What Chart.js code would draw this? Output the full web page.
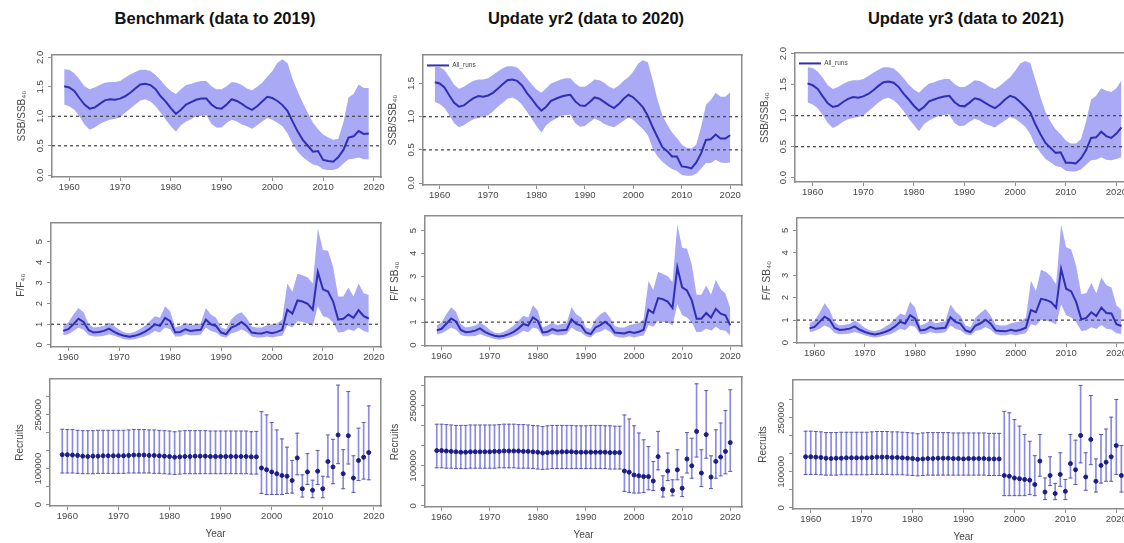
<!DOCTYPE html>
<html>
<head>
<meta charset="utf-8">
<script src="https://cdn.jsdelivr.net/npm/chart.js@4/dist/chart.umd.min.js"></script>
<style>
  body { margin: 0; width: 1124px; height: 543px; overflow: hidden; background: #fff; position: relative; }
  .ttl { position: absolute; top: 9px; width: 340px; text-align: center; font: bold 16.5px "Liberation Sans", Arial, sans-serif; color: #111; }
  canvas { position: absolute; }
</style>
</head>
<body>
<div class="ttl" style="left:45px">Benchmark (data to 2019)</div>
<div class="ttl" style="left:416px">Update yr2 (data to 2020)</div>
<div class="ttl" style="left:796px">Update yr3 (data to 2021)</div>
<script>
// years and ticks
const years = [1959,1960,1961,1962,1963,1964,1965,1966,1967,1968,1969,1970,1971,1972,1973,1974,1975,1976,1977,1978,
  1979,1980,1981,1982,1983,1984,1985,1986,1987,1988,1989,1990,1991,1992,1993,1994,1995,1996,1997,1998,
  1999,2000,2001,2002,2003,2004,2005,2006,2007,2008,2009,2010,2011,2012,2013,2014,2015,2016,2017,2018,
  2019,2020,2021];
const xTicks = [1960, 1970, 1980, 1990, 2000, 2010, 2020];
const ssbTicks = [0, 0.5, 1, 1.5, 2];
const fTicks = [0, 1, 2, 3, 4, 5];
const recTicks = [0, 50000, 100000, 150000, 200000, 250000, 300000];
const recTickLabels = [0, 100000, 250000];
const ssbRefs = [1.0, 0.5];
const fRefs = [1.0];

// ---- Benchmark (to 2019) ----
const ssbMid1 = [1.51,1.49,1.43,1.31,1.20,1.13,1.15,1.21,1.27,1.29, 1.28,1.30,1.34,1.40,1.47,1.54,1.55,1.53,1.46,1.34,
  1.25,1.14,1.04,1.11,1.20,1.24,1.28,1.30,1.30,1.20, 1.14,1.13,1.20,1.29,1.26,1.21,1.15,1.11,1.17,1.25,
  1.33,1.31,1.26,1.19,1.09,0.91,0.74,0.60,0.50,0.40, 0.41,0.26,0.24,0.23,0.31,0.43,0.64,0.66,0.75,0.70, 0.71];
const ssbHi1 = [1.80,1.79,1.73,1.63,1.51,1.46,1.49,1.53,1.57,1.58, 1.58,1.60,1.66,1.71,1.75,1.79,1.79,1.77,1.70,1.61,
  1.51,1.43,1.38,1.46,1.53,1.55,1.58,1.60,1.60,1.51, 1.46,1.46,1.51,1.58,1.57,1.53,1.47,1.44,1.50,1.57,
  1.67,1.77,1.91,1.97,1.90,1.63,1.42,1.23,1.05,0.89, 0.78,0.69,0.64,0.60,0.62,0.90,1.32,1.38,1.54,1.48, 1.48];
const ssbLo1 = [1.20,1.17,1.11,1.00,0.86,0.77,0.81,0.87,0.91,0.94, 0.96,0.98,1.06,1.13,1.20,1.27,1.29,1.25,1.17,1.06,
  0.94,0.83,0.74,0.85,0.91,0.95,1.00,1.01,1.02,0.87, 0.81,0.81,0.89,0.94,0.91,0.86,0.83,0.79,0.85,0.91,
  0.97,0.94,0.89,0.83,0.71,0.53,0.40,0.31,0.24,0.18, 0.16,0.10,0.09,0.09,0.12,0.20,0.27,0.28,0.30,0.27, 0.27];
const fMid1 = [0.68,0.76,1.00,1.27,1.11,0.71,0.60,0.63,0.68,0.79, 0.63,0.52,0.44,0.40,0.44,0.52,0.63,0.79,1.00,0.92,
  1.31,1.15,0.60,0.63,0.76,0.68,0.71,0.73,1.23,1.00, 0.92,0.60,0.52,0.84,0.95,1.11,0.92,0.60,0.57,0.55,
  0.63,0.57,0.63,0.73,1.71,1.52,2.15,2.10,1.99,1.71, 3.53,2.69,2.58,2.10,1.23,1.27,1.47,1.31,1.68,1.39, 1.28];
const fHi1 = [0.92,1.08,1.47,1.79,1.58,1.00,0.84,0.87,0.92,1.08, 0.92,0.73,0.60,0.57,0.63,0.76,0.92,1.15,1.39,1.31,
  1.87,1.63,0.84,0.92,1.08,0.95,1.00,1.04,1.79,1.47, 1.31,0.84,0.76,1.23,1.47,1.58,1.31,0.89,0.84,0.84,
  0.95,1.00,1.04,1.23,2.97,2.58,3.45,3.37,3.26,2.97, 5.63,4.59,4.56,3.77,2.34,2.34,2.78,2.34,2.97,2.50, 2.42];
const fLo1 = [0.47,0.52,0.68,0.84,0.73,0.47,0.41,0.41,0.44,0.52, 0.44,0.36,0.28,0.25,0.28,0.35,0.41,0.52,0.68,0.60,
  0.84,0.76,0.41,0.41,0.52,0.47,0.47,0.51,0.84,0.68, 0.60,0.41,0.36,0.57,0.63,0.76,0.63,0.41,0.36,0.36,
  0.41,0.36,0.41,0.44,0.95,0.84,1.15,1.11,1.04,0.92, 1.87,1.39,1.31,1.08,0.60,0.63,0.76,0.68,0.84,0.68, 0.60];
const recMid1 = [139000,139000,138000,137000,135000,134000,135000,135000,136000,136000,
  136000,136000,136000,137000,138000,138000,138000,137000,137000,136000,
  135000,134000,132000,133000,134000,134000,135000,135000,135000,134000,
  134000,134000,134000,134000,134000,134000,134000,133000,133000,
  102000,97000,91000,86000,81000,79000,67000,130000,44000,91000,40000,93000,44000,120000,105000,
  194000,86000,192000,74000,123000,132000,145000];
const recHi1 = [210000,209000,209000,207000,206000,206000,206000,207000,207000,207000,
  207000,207000,207000,208000,209000,209000,209000,208000,208000,207000,
  206000,205000,203000,205000,206000,206000,206000,206000,206000,205000,
  205000,205000,205000,205000,205000,205000,205000,203000,204000,
  259000,250000,229000,208000,183000,160000,123000,199000,83000,142000,68000,151000,79000,194000,182000,
  333000,153000,315000,136000,213000,229000,275000];
const recLo1 = [88000,88000,88000,87000,86000,86000,86000,87000,87000,87000,
  87000,87000,87000,88000,88000,88000,88000,88000,87000,87000,
  86000,85000,84000,85000,86000,86000,86000,86000,86000,86000,
  86000,86000,86000,86000,86000,86000,86000,85000,85000,
  31000,28000,28000,28000,28000,31000,32000,83000,21000,56000,19000,56000,19000,77000,58000,
  114000,44000,113000,34000,67000,71000,69000];

// ---- Update yr2 (to 2020) ----
const ssbMid2 = [1.52,1.50,1.44,1.32,1.21,1.15,1.17,1.23,1.28,1.31, 1.30,1.32,1.36,1.42,1.49,1.55,1.56,1.54,1.47,1.36,
  1.27,1.17,1.09,1.15,1.24,1.27,1.30,1.32,1.33,1.23, 1.17,1.16,1.22,1.29,1.27,1.22,1.17,1.13,1.19,1.27,
  1.33,1.29,1.22,1.14,1.01,0.84,0.69,0.54,0.48,0.40, 0.40,0.25,0.24,0.22,0.31,0.45,0.65,0.66,0.73,0.67, 0.67,0.72];
const ssbHi2 = [1.76,1.75,1.70,1.60,1.48,1.42,1.45,1.50,1.54,1.56, 1.56,1.58,1.63,1.68,1.73,1.76,1.76,1.74,1.67,1.58,
  1.49,1.41,1.36,1.43,1.50,1.53,1.56,1.58,1.58,1.50, 1.45,1.45,1.50,1.56,1.55,1.51,1.45,1.42,1.47,1.54,
  1.60,1.68,1.80,1.85,1.82,1.55,1.25,1.02,0.88,0.76, 0.68,0.58,0.53,0.52,0.58,0.85,1.18,1.25,1.36,1.30, 1.30,1.37];
const ssbLo2 = [1.22,1.19,1.13,1.02,0.90,0.84,0.87,0.92,0.96,0.98, 1.00,1.02,1.08,1.15,1.21,1.27,1.29,1.25,1.18,1.08,
  0.97,0.86,0.76,0.87,0.93,0.97,1.01,1.02,1.03,0.90, 0.85,0.86,0.92,0.97,0.94,0.89,0.86,0.84,0.89,0.94,
  0.99,0.95,0.88,0.81,0.72,0.52,0.40,0.32,0.26,0.21, 0.18,0.12,0.11,0.11,0.14,0.22,0.30,0.30,0.35,0.31, 0.30,0.31];
const fMid2 = [0.64,0.71,0.93,1.16,1.03,0.66,0.56,0.58,0.63,0.73, 0.58,0.48,0.41,0.37,0.41,0.48,0.58,0.73,0.92,0.85,
  1.21,1.06,0.55,0.58,0.70,0.63,0.65,0.67,1.13,0.92, 0.85,0.55,0.48,0.77,0.87,1.02,0.85,0.55,0.53,0.51,
  0.58,0.53,0.58,0.67,1.55,1.40,2.05,2.00,1.90,1.62, 3.39,2.52,2.38,1.95,1.15,1.15,1.40,1.20,1.58,1.37, 1.30,0.86];
const fHi2 = [0.86,0.99,1.35,1.65,1.45,0.92,0.77,0.80,0.85,0.99, 0.85,0.67,0.55,0.52,0.58,0.70,0.85,1.06,1.28,1.20,
  1.74,1.50,0.77,0.85,0.99,0.87,0.92,0.96,1.65,1.35, 1.20,0.77,0.70,1.13,1.35,1.46,1.20,0.82,0.77,0.77,
  0.87,0.92,0.96,1.13,2.80,2.40,3.20,3.10,3.00,2.75, 5.26,4.25,4.20,3.50,2.20,2.20,2.60,2.20,2.85,2.45, 2.25,1.60];
const fLo2 = [0.47,0.52,0.63,0.77,0.67,0.44,0.38,0.38,0.40,0.48, 0.40,0.33,0.26,0.23,0.26,0.32,0.38,0.48,0.63,0.56,
  0.77,0.70,0.38,0.38,0.48,0.43,0.43,0.47,0.77,0.63, 0.56,0.38,0.33,0.53,0.58,0.70,0.58,0.38,0.33,0.33,
  0.38,0.33,0.38,0.42,0.88,0.80,1.05,1.02,0.98,0.85, 1.78,1.30,1.20,1.00,0.56,0.58,0.72,0.62,0.80,0.66, 0.62,0.42];
const recMid2 = [138000,138000,137000,136000,135000,134000,134000,135000,135000,135000,
  135000,135000,136000,136000,137000,137000,137000,137000,136000,136000,
  135000,134000,132000,133000,134000,134000,135000,135000,135000,134000,
  134000,134000,134000,134000,134000,134000,133000,133000,133000,
  87000,84000,77000,75000,73000,73000,62000,123000,42000,87000,38000,90000,44000,117000,100000,
  186000,82000,178000,72000,111000,122000,136000,158000];
const recHi2 = [204000,204000,203000,202000,201000,201000,201000,202000,202000,202000,
  202000,202000,202000,203000,204000,204000,204000,203000,203000,202000,
  201000,200000,198000,200000,201000,201000,201000,201000,201000,200000,
  200000,200000,201000,201000,201000,200000,200000,199000,199000,
  227000,217000,200000,182000,165000,148000,111000,186000,75000,132000,65000,140000,72000,183000,169000,
  305000,140000,288000,125000,190000,207000,238000,290000];
const recLo2 = [95000,95000,94000,94000,93000,93000,93000,94000,94000,94000,
  94000,94000,94000,95000,95000,95000,95000,94000,94000,94000,
  93000,92000,91000,92000,93000,93000,93000,93000,93000,93000,
  93000,93000,93000,93000,93000,93000,92000,92000,92000,
  36000,33000,32000,32000,33000,40000,38000,90000,22000,63000,25000,65000,23000,82000,69000,
  122000,48000,119000,43000,69000,75000,80000,86000];

// ---- Update yr3 (to 2021) ----
const ssbMid3 = [1.52,1.49,1.43,1.31,1.20,1.14,1.16,1.22,1.27,1.30, 1.29,1.31,1.35,1.41,1.48,1.54,1.55,1.53,1.46,1.35,
  1.26,1.16,1.08,1.14,1.23,1.26,1.29,1.31,1.32,1.22, 1.16,1.15,1.21,1.28,1.26,1.21,1.16,1.12,1.18,1.26,
  1.32,1.29,1.22,1.14,1.05,0.86,0.70,0.56,0.48,0.40, 0.41,0.24,0.24,0.23,0.31,0.44,0.64,0.65,0.74,0.67, 0.64,0.71,0.81];
const ssbHi3 = [1.78,1.77,1.71,1.61,1.49,1.43,1.46,1.51,1.55,1.57, 1.57,1.59,1.64,1.69,1.74,1.78,1.78,1.76,1.69,1.60,
  1.50,1.42,1.37,1.45,1.52,1.54,1.57,1.59,1.59,1.51, 1.46,1.46,1.51,1.57,1.56,1.52,1.46,1.43,1.48,1.55,
  1.62,1.72,1.84,1.88,1.85,1.58,1.30,1.06,0.90,0.78, 0.70,0.60,0.55,0.55,0.62,0.90,1.26,1.32,1.44,1.40, 1.38,1.44,1.57];
const ssbLo3 = [1.21,1.18,1.12,1.01,0.88,0.80,0.84,0.90,0.94,0.96, 0.98,1.00,1.07,1.14,1.21,1.27,1.29,1.25,1.17,1.07,
  0.95,0.85,0.75,0.86,0.92,0.96,1.00,1.01,1.02,0.88, 0.83,0.84,0.90,0.95,0.92,0.87,0.84,0.81,0.87,0.92,
  0.98,0.95,0.89,0.82,0.70,0.52,0.40,0.30,0.25,0.19, 0.17,0.11,0.10,0.10,0.13,0.21,0.28,0.29,0.33,0.29, 0.28,0.30,0.33];
const fMid3 = [0.63,0.70,0.92,1.15,1.02,0.65,0.56,0.58,0.62,0.72, 0.57,0.47,0.40,0.36,0.40,0.47,0.57,0.72,0.92,0.85,
  1.22,1.06,0.54,0.57,0.70,0.62,0.64,0.66,1.13,0.92, 0.85,0.54,0.47,0.76,0.86,1.02,0.84,0.54,0.52,0.50,
  0.57,0.52,0.57,0.66,1.45,1.35,1.95,1.90,1.80,1.55, 3.28,2.40,2.28,1.80,1.04,1.10,1.35,1.18,1.56,1.32, 1.30,0.82,0.74];
const fHi3 = [0.85,0.98,1.33,1.75,1.45,0.90,0.76,0.79,0.84,0.98, 0.84,0.66,0.55,0.51,0.57,0.69,0.84,1.05,1.30,1.22,
  1.82,1.55,0.76,0.84,0.98,0.86,0.90,0.95,1.70,1.38, 1.20,0.76,0.69,1.12,1.33,1.50,1.20,0.80,0.76,0.76,
  0.86,0.90,0.95,1.12,2.75,2.30,3.25,3.15,2.95,2.60, 5.26,4.25,4.15,3.40,2.15,2.20,2.65,2.20,2.90,2.55, 2.45,1.65,1.45];
const fLo3 = [0.46,0.51,0.62,0.76,0.66,0.43,0.37,0.38,0.40,0.47, 0.40,0.33,0.26,0.23,0.26,0.31,0.37,0.47,0.62,0.55,
  0.76,0.69,0.37,0.38,0.47,0.42,0.43,0.46,0.76,0.62, 0.55,0.37,0.32,0.52,0.57,0.69,0.57,0.37,0.33,0.33,
  0.37,0.33,0.37,0.41,0.82,0.76,1.00,0.98,0.92,0.80, 1.70,1.22,1.12,0.92,0.52,0.55,0.68,0.60,0.78,0.62, 0.58,0.42,0.38];
const recMid3 = [142000,142000,141000,140000,138000,137000,138000,138000,139000,139000,
  139000,139000,139000,140000,141000,141000,141000,140000,140000,139000,
  138000,137000,135000,136000,137000,137000,138000,138000,138000,137000,
  137000,136000,137000,137000,137000,137000,136000,136000,136000,
  90000,88000,83000,81000,79000,77000,65000,130000,44000,90000,40000,93000,46000,123000,106000,
  201000,86000,190000,74000,118000,127000,142000,173000,90000];
const recHi3 = [213000,213000,212000,211000,209000,209000,209000,210000,210000,210000,
  210000,210000,210000,211000,212000,212000,212000,211000,211000,210000,
  209000,208000,206000,208000,209000,209000,209000,209000,209000,208000,
  208000,208000,208000,208000,208000,208000,207000,207000,207000,
  268000,264000,245000,227000,204000,185000,145000,204000,83000,142000,68000,153000,79000,204000,188000,
  340000,153000,312000,136000,204000,219000,252000,301000,173000];
const recLo3 = [93000,93000,93000,92000,91000,91000,91000,92000,92000,92000,
  92000,92000,92000,93000,93000,93000,93000,92000,92000,92000,
  91000,90000,89000,90000,91000,91000,91000,91000,91000,91000,
  91000,91000,91000,91000,91000,91000,90000,90000,90000,
  34000,34000,34000,34000,34000,37000,34000,88000,23000,62000,23000,60000,23000,83000,65000,
  125000,49000,120000,44000,69000,74000,74000,93000,44000];

// styles
const FONT = "'Liberation Sans', Arial, sans-serif";
const AXIS = '#8c8c8c';
const TXT = '#474747';
const BAND = '#a9a9f5';
const MEAN = '#2f2fb5';
const WHISK = '#8a8ae0';
const CAP = '#5a5aae';
const DOT = '#1c1c86';
const AXW = 40;   // room left of the plot box for tick labels and title
const TOPR = 10;
const RIGHTR = 12;

const meas = document.createElement('canvas').getContext('2d');
function labelPad(texts) {
  meas.font = '9.5px ' + FONT;
  const w = Math.max(...texts.map(t => meas.measureText(t).width));
  return 8 - w / 2;
}

const fmt1 = v => v.toFixed(1);
const fmt0 = v => String(v);

function makeScales(p) {
  const font = { family: FONT, size: 9.5 };
  const frame = { color: AXIS, width: 1.5 };
  const shown = p.yShown.map(p.yFmt);
  return {
    x: {
      type: 'linear', min: p.x0, max: p.x1, offset: false,
      afterBuildTicks: s => { s.ticks = xTicks.filter(v => v >= s.min && v <= s.max).map(v => ({ value: v })); },
      afterFit: s => { s.height = p.xRoom; },
      ticks: { callback: v => String(v), color: TXT, font: font, padding: 1, maxRotation: 0, autoSkip: false },
      grid: { offset: false, drawOnChartArea: false, tickLength: 4, color: AXIS },
      border: frame,
      title: { display: !!p.xTitle, text: p.xTitle || '', color: TXT, font: { family: FONT, size: 10 }, padding: 0 }
    },
    y: {
      type: 'linear', min: p.y0, max: p.y1,
      afterBuildTicks: s => { s.ticks = p.yTicks.filter(v => v >= s.min && v <= s.max).map(v => ({ value: v })); },
      afterFit: s => { s.width = AXW; },
      ticks: {
        callback: v => p.yShown.includes(v) ? p.yFmt(v) : '',
        color: TXT, font: font, minRotation: 90, maxRotation: 90,
        crossAlign: 'center', padding: labelPad(shown), autoSkip: false
      },
      grid: { drawOnChartArea: false, tickLength: 4, color: AXIS },
      border: frame,
      title: { display: true, text: p.yTitle, color: TXT, font: { family: FONT, size: 10 }, padding: { top: 4, bottom: 0 } }
    },
    xTop: {
      type: 'linear', position: 'top', min: p.x0, max: p.x1, offset: false,
      ticks: { display: false }, grid: { display: false, drawTicks: false }, border: frame,
      afterFit: s => { s.height = 0; }
    },
    yRight: {
      type: 'linear', position: 'right', min: 0, max: 1,
      ticks: { display: false }, grid: { display: false, drawTicks: false }, border: frame,
      afterFit: s => { s.width = 0; }
    }
  };
}

const pts = (yrs, a) => yrs.map((x, i) => ({ x: x, y: a[i] }));

function bandSets(p) {
  const sets = [
    { label: 'lo', data: pts(p.yrs, p.lo), borderColor: 'transparent', borderWidth: 0, pointRadius: 0, fill: false, order: 3 },
    { label: 'hi', data: pts(p.yrs, p.hi), borderColor: 'transparent', borderWidth: 0, pointRadius: 0, fill: '-1', backgroundColor: BAND, order: 2 },
    { label: 'All_runs', data: pts(p.yrs, p.mid), borderColor: MEAN, backgroundColor: MEAN, borderWidth: 2, pointRadius: 0, fill: false, order: 0 }
  ];
  p.refs.forEach(r => sets.push({
    label: 'ref', data: [{ x: p.x0, y: r }, { x: p.x1, y: r }],
    borderColor: '#4d4d4d', borderWidth: 1.3, borderDash: [3, 3], pointRadius: 0, fill: false, order: 1
  }));
  return sets;
}

function recSets(p) {
  return [
    { type: 'scatter', label: 'mid', data: pts(p.yrs, p.mid), pointRadius: 2, backgroundColor: DOT, borderColor: DOT, borderWidth: 1, order: 0 },
    { type: 'scatter', label: 'hi', data: pts(p.yrs, p.hi), pointStyle: 'line', pointRadius: 2, borderColor: CAP, backgroundColor: CAP, borderWidth: 1, order: 1 },
    { type: 'scatter', label: 'lo', data: pts(p.yrs, p.lo), pointStyle: 'line', pointRadius: 2, borderColor: CAP, backgroundColor: CAP, borderWidth: 1, order: 1 },
    { type: 'bar', label: 'range', data: p.yrs.map((x, i) => ({ x: x, y: [p.lo[i], p.hi[i]] })), backgroundColor: WHISK, barThickness: 1, order: 2 }
  ];
}

const col = [
  { yrs: years.slice(0, 61), x0: 1956.6, x1: 2021.4 },
  { yrs: years.slice(0, 62), x0: 1956.56, x1: 2022.44 },
  { yrs: years.slice(0, 63), x0: 1956.52, x1: 2023.48 }
];

const ssbTitle = 'SSB/SSB\u2084\u2080';
const panels = [
  // top row: SSB
  { c: 0, kind: 'band', left: 52, right: 381, top: 55, bottom: 177, y0: -0.03, y1: 2.04, mid: ssbMid1, lo: ssbLo1, hi: ssbHi1, refs: ssbRefs, yTicks: ssbTicks, yShown: ssbTicks, yFmt: fmt1, yTitle: ssbTitle, legend: false },
  { c: 1, kind: 'band', left: 423, right: 742, top: 55, bottom: 185, y0: -0.03, y1: 1.93, mid: ssbMid2, lo: ssbLo2, hi: ssbHi2, refs: ssbRefs, yTicks: ssbTicks, yShown: ssbTicks, yFmt: fmt1, yTitle: ssbTitle, legend: true },
  { c: 2, kind: 'band', left: 795, right: 1134, top: 53, bottom: 182, y0: -0.07, y1: 2.01, mid: ssbMid3, lo: ssbLo3, hi: ssbHi3, refs: ssbRefs, yTicks: ssbTicks, yShown: ssbTicks, yFmt: fmt1, yTitle: ssbTitle, legend: true },
  // middle row: F
  { c: 0, kind: 'band', left: 51, right: 381, top: 222, bottom: 347, y0: -0.1, y1: 5.9, mid: fMid1, lo: fLo1, hi: fHi1, refs: fRefs, yTicks: fTicks, yShown: fTicks, yFmt: fmt0, yTitle: 'F/F\u2084\u2080', legend: false },
  { c: 1, kind: 'band', left: 425, right: 742, top: 215, bottom: 346, y0: -0.04, y1: 5.63, mid: fMid2, lo: fLo2, hi: fHi2, refs: fRefs, yTicks: fTicks, yShown: fTicks, yFmt: fmt0, yTitle: 'F/F SB\u2084\u2080', legend: false },
  { c: 2, kind: 'band', left: 797, right: 1134, top: 217, bottom: 343, y0: -0.02, y1: 5.55, mid: fMid3, lo: fLo3, hi: fHi3, refs: fRefs, yTicks: fTicks, yShown: fTicks, yFmt: fmt0, yTitle: 'F/F SB\u2084\u2080', legend: false },
  // bottom row: recruits
  { c: 0, kind: 'rec', left: 50, right: 381, top: 379, bottom: 506, y0: -4000, y1: 350000, mid: recMid1, lo: recLo1, hi: recHi1, yTicks: recTicks, yShown: recTickLabels, yFmt: fmt0, yTitle: 'Recruits', xTitle: 'Year' },
  { c: 1, kind: 'rec', left: 425, right: 742, top: 377, bottom: 507, y0: -3000, y1: 322000, mid: recMid2, lo: recLo2, hi: recHi2, yTicks: recTicks, yShown: recTickLabels, yFmt: fmt0, yTitle: 'Recruits', xTitle: 'Year' },
  { c: 2, kind: 'rec', left: 793, right: 1134, top: 380, bottom: 509, y0: -3000, y1: 355000, mid: recMid3, lo: recLo3, hi: recHi3, yTicks: recTicks, yShown: recTickLabels, yFmt: fmt0, yTitle: 'Recruits', xTitle: 'Year' }
];

panels.forEach(p => {
  Object.assign(p, col[p.c]);
  p.xRoom = p.kind === 'rec' ? 34 : 20;
  const cv = document.createElement('canvas');
  cv.width = p.right - p.left + AXW + RIGHTR;
  cv.height = p.bottom - p.top + TOPR + p.xRoom;
  cv.style.left = (p.left - AXW) + 'px';
  cv.style.top = (p.top - TOPR) + 'px';
  document.body.appendChild(cv);

  new Chart(cv, {
    type: 'line',
    data: { datasets: p.kind === 'rec' ? recSets(p) : bandSets(p) },
    options: {
      responsive: false,
      animation: false,
      devicePixelRatio: 1,
      layout: { padding: { left: 0, top: TOPR, right: RIGHTR, bottom: 0 } },
      scales: makeScales(p),
      plugins: {
        tooltip: { enabled: false },
        legend: {
          display: !!p.legend,
          position: 'chartArea',
          align: 'start',
          title: { display: true, text: ' ', font: { size: 6 }, padding: { top: 0, bottom: 6 } },
          labels: {
            filter: it => it.text === 'All_runs',
            usePointStyle: true, pointStyle: 'line', pointStyleWidth: 22,
            boxHeight: 7, padding: 4, color: TXT,
            font: { family: FONT, size: 6.5 }
          }
        }
      }
    }
  });
});
</script>
</body>
</html>
